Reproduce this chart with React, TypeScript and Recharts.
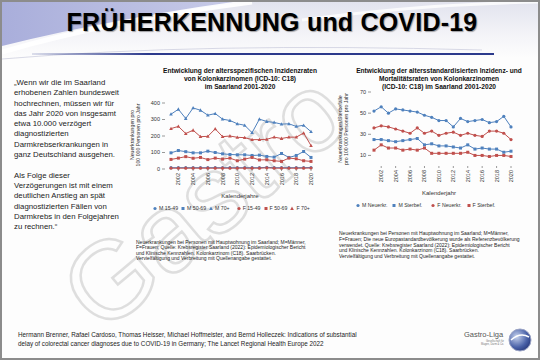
import React from "react";
import { Line, LineChart, XAxis, YAxis } from "recharts";

const YEARS = [
  2001, 2002, 2003, 2004, 2005, 2006, 2007, 2008, 2009, 2010,
  2011, 2012, 2013, 2014, 2015, 2016, 2017, 2018, 2019, 2020,
];
const YEAR_TICKS = [2002, 2004, 2006, 2008, 2010, 2012, 2014, 2016, 2018, 2020];

// left chart: age-specific incidence per 100 000
const M_15_49 = [8, 8, 8, 8, 8, 8, 8, 8, 8, 8, 8, 8, 8, 10, 8, 8, 8, 8, 8, 9];
const M_50_69 = [98, 112, 105, 98, 98, 108, 100, 92, 88, 86, 86, 82, 84, 76, 72, 94, 70, 82, 106, 70];
const M_70 = [332, 362, 306, 370, 356, 326, 336, 302, 294, 274, 265, 220, 302, 288, 282, 272, 274, 258, 265, 226];
const F_15_49 = [5, 5, 5, 5, 5, 5, 5, 5, 5, 5, 5, 5, 5, 7, 5, 5, 5, 5, 5, 6];
const F_50_69 = [58, 66, 75, 65, 70, 57, 66, 60, 66, 50, 60, 70, 55, 56, 50, 46, 66, 62, 50, 46];
const F_70 = [245, 258, 215, 235, 196, 198, 243, 196, 200, 192, 190, 178, 178, 180, 193, 185, 193, 193, 218, 142];
const AGE_TICKS = [0, 100, 200, 300, 400];

// right chart: age-standardised incidence and mortality
const M_NEU = [52, 56, 50, 54, 53, 52, 51, 48, 46, 43, 43, 37, 45, 42, 43, 44, 41, 42, 47, 37];
const M_STERB = [25, 25, 24, 23, 24, 25, 26, 20, 21, 19, 19, 18, 17, 20, 16, 17, 16, 16, 13, 14];
const F_NEU = [36, 38, 37, 35, 33, 31, 36, 31, 33, 29, 31, 32, 29, 31, 29, 28, 33, 33, 31, 25];
const F_STERB = [15, 20, 17, 17, 15, 16, 15, 17, 12, 12, 12, 12, 12, 13, 10, 10, 9, 10, 10, 9];
const RATE_TICKS = [0, 10, 20, 30, 40, 50, 60, 70];

const BLUE = "#4f81bd";
const RED = "#c0504d";
const FONT = '"Liberation Sans", Arial, sans-serif';

type Shape = "circle" | "square" | "triangle";

const ageData = YEARS.map((year, i) => ({
  year,
  m1549: M_15_49[i],
  m5069: M_50_69[i],
  m70: M_70[i],
  f1549: F_15_49[i],
  f5069: F_50_69[i],
  f70: F_70[i],
}));

const rateData = YEARS.map((year, i) => ({
  year,
  mNeu: M_NEU[i],
  mSterb: M_STERB[i],
  fNeu: F_NEU[i],
  fSterb: F_STERB[i],
}));

const AGE_SERIES: { key: string; name: string; color: string; shape: Shape }[] = [
  { key: "m1549", name: "M 15-49", color: BLUE, shape: "circle" },
  { key: "m5069", name: "M 50-69", color: BLUE, shape: "square" },
  { key: "m70", name: "M 70+", color: BLUE, shape: "triangle" },
  { key: "f1549", name: "F 15-49", color: RED, shape: "circle" },
  { key: "f5069", name: "F 50-69", color: RED, shape: "square" },
  { key: "f70", name: "F 70+", color: RED, shape: "triangle" },
];

const RATE_SERIES: { key: string; name: string; color: string; shape: Shape }[] = [
  { key: "mNeu", name: "M Neuerkr.", color: BLUE, shape: "circle" },
  { key: "mSterb", name: "M Sterbef.", color: BLUE, shape: "square" },
  { key: "fNeu", name: "F Neuerkr.", color: RED, shape: "circle" },
  { key: "fSterb", name: "F Sterbef.", color: RED, shape: "square" },
];

function Marker({ cx, cy, shape, color }: { cx: number; cy: number; shape: Shape; color: string }) {
  if (shape === "square") return <rect x={cx - 1.5} y={cy - 1.5} width={3} height={3} fill={color} />;
  if (shape === "triangle")
    return <path d={`M${cx},${cy - 1.9} L${cx + 1.8},${cy + 1.4} L${cx - 1.8},${cy + 1.4} Z`} fill={color} />;
  return <circle cx={cx} cy={cy} r={1.6} fill={color} />;
}

const dotOf = (shape: Shape, color: string) => (p: any) => {
  const { cx, cy, index } = p;
  if (typeof cx !== "number" || typeof cy !== "number") return <g key={`e-${index}`} />;
  return (
    <g key={`d-${index}`}>
      <Marker cx={cx} cy={cy} shape={shape} color={color} />
    </g>
  );
};

function YearTick({ x, y, payload }: any) {
  return (
    <text
      x={x}
      y={y}
      transform={`rotate(-90 ${x} ${y})`}
      textAnchor="end"
      dominantBaseline="central"
      fontSize={5.5}
      fontFamily={FONT}
      fill="#333"
    >
      {payload.value}
    </text>
  );
}

function Legend({ items, left, top, gap }: { items: typeof AGE_SERIES; left: number; top: number; gap: number }) {
  return (
    <div style={{ position: "absolute", left, top, display: "flex", gap, fontSize: 5.2, color: "#333", whiteSpace: "nowrap" }}>
      {items.map((s, i) => (
        <span key={s.key} style={{ display: "flex", alignItems: "center", marginLeft: i > 0 && s.color === RED && items[i - 1].color === BLUE ? 4 : 0 }}>
          <svg width={4} height={5} style={{ marginRight: 2 }}>
            <Marker cx={2} cy={2.5} shape={s.shape} color={s.color} />
          </svg>
          {s.name}
        </span>
      ))}
    </div>
  );
}

function Abs({ left, top, style, children }: { left: number; top: number; style?: React.CSSProperties; children: React.ReactNode }) {
  return <div style={{ position: "absolute", left, top, ...style }}>{children}</div>;
}

function VLabel({ cx, cy, lines }: { cx: number; cy: number; lines: string[] }) {
  return (
    <div
      style={{
        position: "absolute",
        left: cx,
        top: cy,
        transform: "translate(-50%, -50%) rotate(-90deg)",
        whiteSpace: "nowrap",
        textAlign: "center",
        fontSize: 5.2,
        lineHeight: "5.8px",
        color: "#333",
      }}
    >
      {lines.map((l) => (
        <div key={l}>{l}</div>
      ))}
    </div>
  );
}

const QUOTE = [
  "„Wenn wir die im Saarland",
  "erhobenen Zahlen bundesweit",
  "hochrechnen, müssen wir für",
  "das Jahr 2020 von insgesamt",
  "etwa 10.000 verzögert",
  "diagnostizierten",
  "Darmkrebserkrankungen in",
  "ganz Deutschland ausgehen.",
  "",
  "Als Folge dieser",
  "Verzögerungen ist mit einem",
  "deutlichen Anstieg an spät",
  "diagnostizierten Fällen von",
  "Darmkrebs in den Folgejahren",
  "zu rechnen.“",
];

const NOTE_LEFT = [
  "Neuerkrankungen bei Personen mit Hauptwohnung im Saarland; M=Männer,",
  "F=Frauen; Quelle: Krebsregister Saarland (2022): Epidemiologischer Bericht",
  "und Klinische Kennzahlen. Kolonkarzinom (C18). Saarbrücken.",
  "Vervielfältigung und Verbreitung mit Quellenangabe gestattet.",
];

const NOTE_RIGHT = [
  "Neuerkrankungen bei Personen mit Hauptwohnung im Saarland; M=Männer,",
  "F=Frauen; Die neue Europastandardbevölkerung wurde als Referenzbevölkerung",
  "verwendet. Quelle: Krebsregister Saarland (2022): Epidemiologischer Bericht",
  "und Klinische Kennzahlen. Kolonkarzinom (C18). Saarbrücken.",
  "Vervielfältigung und Verbreitung mit Quellenangabe gestattet.",
];

const axisTick = { fontSize: 5.5, fill: "#333", fontFamily: FONT };

export default function App() {
  return (
    <div
      style={{
        position: "absolute",
        left: 0,
        top: 0,
        width: 540,
        height: 360,
        boxSizing: "border-box",
        border: "2px solid #8c8c8c",
        background: "#fdfdfd",
        overflow: "hidden",
        fontFamily: FONT,
      }}
    >
      {/* header band */}
      <div style={{ position: "absolute", left: 0, top: 0, width: 540, height: 56, background: "linear-gradient(180deg, #e2e3ee 0%, #f4f4f8 60%, #fdfdfd 100%)" }} />
      <svg width={540} height={60} style={{ position: "absolute", left: 0, top: 0 }}>
        <defs>
          <linearGradient id="hdr" x1="0" y1="0" x2="1" y2="0">
            <stop offset="0%" stopColor="#a9aedb" />
            <stop offset="100%" stopColor="#c9cce8" />
          </linearGradient>
        </defs>
        <path d="M0,0 L245,0 Q120,14 0,44 Z" fill="url(#hdr)" />
        <path d="M0,50 Q110,18 250,0" fill="none" stroke="#ffffff" strokeWidth={5} opacity={0.9} />
        <path d="M300,18 Q420,2 540,0" fill="none" stroke="#ffffff" strokeWidth={3} opacity={0.8} />
        <path d="M0,57 Q200,40 480,48" fill="none" stroke="#c7c9dc" strokeWidth={1} opacity={0.7} />
      </svg>
      <div
        style={{
          position: "absolute",
          left: 0,
          top: 6,
          width: 540,
          textAlign: "center",
          fontSize: 25,
          fontWeight: 700,
          color: "#000",
          textShadow: "1px 1px 1px rgba(0,0,0,0.35)",
          letterSpacing: 0.2,
        }}
      >
        FRÜHERKENNUNG und COVID-19
      </div>
      <div style={{ position: "absolute", left: 30, top: 51, width: 462, height: 1.5, background: "linear-gradient(90deg, rgba(44,58,140,0.15), #2c3a8c 25%, #2c3a8c)" }} />

      {/* watermark */}
      <svg width={540} height={360} style={{ position: "absolute", left: 0, top: 0, pointerEvents: "none" }}>
        <g transform="translate(100 334) rotate(-40)">
          <text
            x={0}
            y={0}
            fontSize={110}
            fontFamily={FONT}
            fill="none"
            stroke="#d2d2d2"
            strokeWidth={2.5}
            opacity={0.7}
          >
            Gastro
          </text>
        </g>
      </svg>

      {/* quote */}
      <Abs left={12} top={76} style={{ fontSize: 7.8, lineHeight: "10.3px", color: "#222", whiteSpace: "nowrap" }}>
        {QUOTE.map((l, i) => (
          <div key={i} style={{ height: 10.3 }}>{l}</div>
        ))}
      </Abs>

      {/* left chart */}
      <Abs left={138} top={65} style={{ width: 200, textAlign: "center", fontSize: 6.6, fontWeight: 700, lineHeight: "8px", color: "#111", whiteSpace: "nowrap" }}>
        <div>Entwicklung der altersspezifischen Inzidenzraten</div>
        <div>von Kolonkarzinomen (ICD-10: C18)</div>
        <div>im Saarland 2001-2020</div>
      </Abs>
      <VLabel cx={133.5} cy={133} lines={["Neuerkrankungen pro", "100 000 Personen pro Jahr"]} />
      <Abs left={120} top={95}>
        <LineChart width={198} height={97} data={ageData} margin={{ top: 6, right: 5, left: 0, bottom: 0 }}>
          <XAxis
            dataKey="year"
            type="number"
            domain={[2001, 2020]}
            ticks={YEAR_TICKS}
            padding={{ left: 6, right: 4 }}
            height={25}
            axisLine={false}
            tickLine={{ stroke: "#999" }}
            tickSize={2}
            tickMargin={2}
            tick={<YearTick />}
            interval={0}
          />
          <YAxis
            domain={[0, 400]}
            ticks={AGE_TICKS}
            width={43}
            axisLine={false}
            tickLine={{ stroke: "#999" }}
            tickSize={3}
            tickMargin={2}
            tick={axisTick}
          />
          {AGE_SERIES.map((s) => (
            <Line
              key={s.key}
              dataKey={s.key}
              name={s.name}
              type="linear"
              stroke={s.color}
              strokeWidth={1}
              dot={dotOf(s.shape, s.color)}
              activeDot={false}
              isAnimationActive={false}
            />
          ))}
        </LineChart>
      </Abs>
      <Abs left={138} top={191} style={{ width: 200, textAlign: "center", fontSize: 6, color: "#333" }}>Kalenderjahre</Abs>
      <Legend items={AGE_SERIES} left={151} top={203} gap={3} />
      <Abs left={134} top={238} style={{ fontSize: 5, lineHeight: "5.4px", color: "#222", whiteSpace: "nowrap" }}>
        {NOTE_LEFT.map((l) => (
          <div key={l}>{l}</div>
        ))}
      </Abs>

      {/* right chart */}
      <Abs left={337} top={65} style={{ width: 200, textAlign: "center", fontSize: 6.6, fontWeight: 700, lineHeight: "8px", color: "#111", whiteSpace: "nowrap" }}>
        <div>Entwicklung der altersstandardisierten Inzidenz- und</div>
        <div>Mortalitätsraten von Kolonkarzinomen</div>
        <div>(ICD-10: C18) im Saarland 2001-2020</div>
      </Abs>
      <VLabel cx={342} cy={127} lines={["Neuerkrankungen/Sterbefälle", "pro 100 000 Personen pro Jahr"]} />
      <Abs left={340} top={84}>
        <LineChart width={177} height={105} data={rateData} margin={{ top: 6, right: 5, left: 0, bottom: 0 }}>
          <XAxis
            dataKey="year"
            type="number"
            domain={[2001, 2020]}
            ticks={YEAR_TICKS}
            padding={{ left: 3, right: 3 }}
            height={25}
            axisLine={false}
            tickLine={{ stroke: "#999" }}
            tickSize={2}
            tickMargin={2}
            tick={<YearTick />}
            interval={0}
          />
          <YAxis
            domain={[0, 70]}
            ticks={RATE_TICKS}
            width={29}
            axisLine={false}
            tickLine={{ stroke: "#999" }}
            tickSize={3}
            tickMargin={2}
            tick={axisTick}
          />
          {RATE_SERIES.map((s) => (
            <Line
              key={s.key}
              dataKey={s.key}
              name={s.name}
              type="linear"
              stroke={s.color}
              strokeWidth={1}
              dot={dotOf(s.shape, s.color)}
              activeDot={false}
              isAnimationActive={false}
            />
          ))}
        </LineChart>
      </Abs>
      <Abs left={337} top={188} style={{ width: 200, textAlign: "center", fontSize: 6, color: "#333" }}>Kalenderjahr</Abs>
      <Legend items={RATE_SERIES} left={354} top={200} gap={5} />
      <Abs left={337} top={229} style={{ fontSize: 5, lineHeight: "5.8px", color: "#222", whiteSpace: "nowrap" }}>
        {NOTE_RIGHT.map((l) => (
          <div key={l}>{l}</div>
        ))}
      </Abs>

      {/* citation */}
      <Abs left={16} top={328} style={{ fontSize: 6.3, lineHeight: "9px", color: "#222", whiteSpace: "nowrap" }}>
        <div>Hermann Brenner, Rafael Cardoso, Thomas Heisser, Michael Hoffmeister, and Bernd Holleczek: Indications of substantial</div>
        <div>delay of colorectal cancer diagnoses due to COVID-19 in Germany; The Lancet Regional Health Europe 2022</div>
      </Abs>

      {/* logo */}
      <Abs left={462} top={328} style={{ fontSize: 7.5, color: "#555" }}>Gastro-Liga</Abs>
      <Abs left={470} top={338} style={{ fontSize: 2.6, lineHeight: "3px", color: "#777", textAlign: "right", width: 32 }}>
        <div>Gesellschaft für</div>
        <div>Magen, Darm & Co.</div>
      </Abs>
      <svg width={30} height={30} style={{ position: "absolute", left: 503, top: 323 }}>
        <defs>
          <radialGradient id="logo" cx="0.35" cy="0.35" r="0.8">
            <stop offset="0%" stopColor="#c7d3ee" />
            <stop offset="60%" stopColor="#4a62a8" />
            <stop offset="100%" stopColor="#1e2d6e" />
          </radialGradient>
        </defs>
        <circle cx={15} cy={15} r={11} fill="url(#logo)" stroke="#9aa3c4" strokeWidth={1} />
        <path d="M6,15 Q15,7 24,12" fill="none" stroke="#fff" strokeWidth={1.5} />
      </svg>
    </div>
  );
}
